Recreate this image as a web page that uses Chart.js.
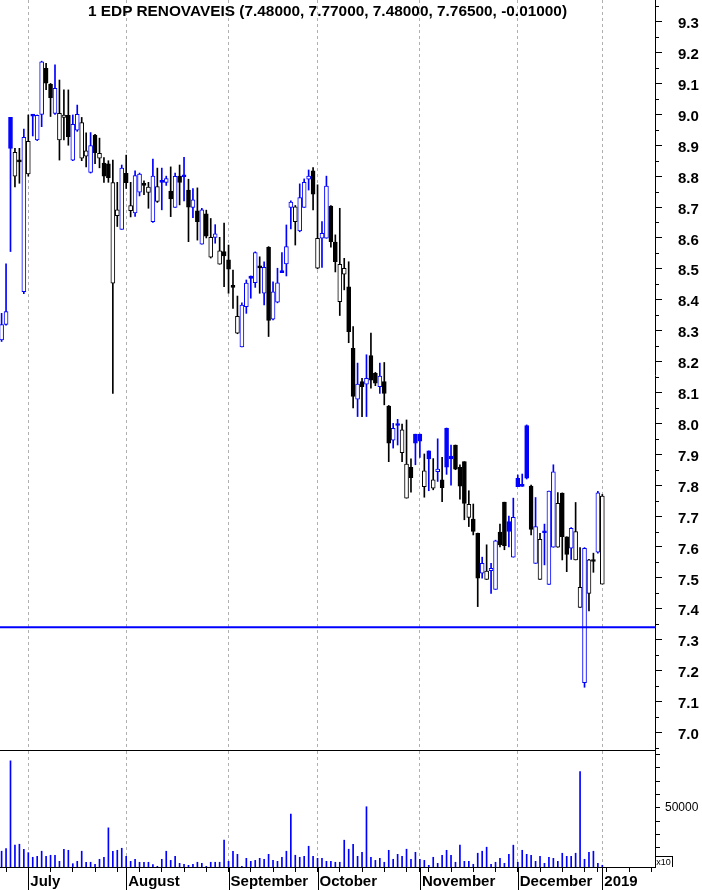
<!DOCTYPE html>
<html>
<head>
<meta charset="utf-8">
<script src="https://cdn.jsdelivr.net/npm/chart.js@4.4.1/dist/chart.umd.min.js"></script>
<style>
html,body{margin:0;padding:0;background:#fff;}
#wrap{position:relative;width:702px;height:890px;overflow:hidden;background:#fff;}
#price{position:absolute;left:0;top:0;}
#vol{position:absolute;left:0;top:751px;}
#title{position:absolute;left:0;top:3px;width:655px;text-align:center;font-family:"Liberation Sans",Arial,sans-serif;font-weight:bold;font-size:15.4px;line-height:15.4px;color:#000;white-space:nowrap;}
#x10{position:absolute;left:655px;top:856px;width:17px;height:10px;border-top:1px solid #000;border-right:1px solid #000;font-family:"Liberation Sans",Arial,sans-serif;font-size:9px;line-height:10px;text-align:center;color:#000;}
</style>
</head>
<body>
<div id="wrap">
<canvas id="price" width="702" height="751"></canvas>
<canvas id="vol" width="702" height="139"></canvas>
<div id="title">1 EDP RENOVAVEIS (7.48000, 7.77000, 7.48000, 7.76500, -0.01000)</div>
<div id="x10">x10</div>
</div>
<script>
// ---- data (one entry per trading day, 22 Jun 2018 .. 2 Jan 2019) ----
const opens = [8.27,8.32,8.99,8.80,8.849,8.426,8.807,8.994,8.917,9.0,
9.149,9.097,9.003,8.917,8.99,8.997,8.852,8.949,8.858,8.865,
8.812,8.933,8.858,8.842,8.84,8.454,8.672,8.628,8.809,8.688,
8.681,8.748,8.772,8.747,8.653,8.718,8.78,8.78,8.752,8.699,
8.80,8.798,8.755,8.699,8.688,8.58,8.678,8.538,8.602,8.515,
8.556,8.529,8.445,8.292,8.247,8.378,8.477,8.455,8.507,8.421,
8.570,8.337,8.392,8.488,8.516,8.699,8.653,8.623,8.699,8.79,
8.817,8.502,8.599,8.599,8.703,8.587,8.394,8.483,8.442,8.243,
8.078,8.135,8.127,8.219,8.162,8.119,8.135,8.056,7.946,7.993,
7.905,7.758,7.858,7.965,7.965,7.795,7.911,7.79,7.844,7.817,
7.984,7.894,7.930,7.858,7.876,7.696,7.69,7.644,7.515,7.495,
7.523,7.463,7.648,7.745,7.682,7.567,7.822,7.796,7.993,7.797,
7.547,7.495,7.646,7.479,7.599,7.599,7.774,7.633,7.596,7.558,
7.404,7.161,7.45,7.554,7.583,7.48];
const highs = [8.356,8.516,8.99,8.89,8.89,8.952,8.998,9.0,8.998,9.172,
9.165,9.10,9.160,9.111,9.079,9.079,8.998,9.03,8.99,8.94,
8.941,8.935,8.923,8.86,8.85,8.852,8.78,8.836,8.868,8.78,
8.817,8.81,8.785,8.78,8.855,8.826,8.826,8.80,8.83,8.81,
8.836,8.861,8.79,8.76,8.762,8.696,8.69,8.663,8.643,8.602,
8.648,8.577,8.496,8.412,8.39,8.464,8.477,8.555,8.539,8.523,
8.572,8.458,8.502,8.553,8.642,8.72,8.705,8.775,8.791,8.82,
8.828,8.772,8.653,8.80,8.705,8.61,8.696,8.534,8.523,8.313,
8.195,8.146,8.222,8.292,8.165,8.195,8.197,8.058,8.0,8.013,
7.998,8.011,7.885,7.965,7.965,7.901,7.911,7.886,7.95,7.89,
7.985,7.93,7.93,7.866,7.876,7.782,7.739,7.645,7.567,7.607,
7.547,7.622,7.674,7.745,7.70,7.758,7.833,7.836,7.995,7.80,
7.76,7.644,7.674,7.781,7.866,7.776,7.775,7.633,7.663,7.744,
7.598,7.598,7.56,7.58,7.78,7.77];
const lows = [8.265,8.318,8.556,8.765,8.777,8.42,8.80,8.93,8.915,8.96,
9.08,8.993,9.0,8.852,8.917,8.90,8.85,8.945,8.85,8.83,
8.81,8.84,8.827,8.78,8.78,8.097,8.637,8.628,8.76,8.668,
8.67,8.736,8.74,8.696,8.65,8.715,8.691,8.77,8.669,8.699,
8.707,8.72,8.588,8.666,8.593,8.58,8.60,8.535,8.583,8.515,
8.442,8.421,8.372,8.29,8.247,8.356,8.405,8.44,8.421,8.383,
8.281,8.335,8.39,8.488,8.477,8.629,8.577,8.62,8.699,8.755,
8.691,8.50,8.505,8.599,8.57,8.49,8.349,8.432,8.261,8.05,
8.022,8.022,8.022,8.114,8.122,8.097,8.06,7.876,7.92,7.93,
7.876,7.758,7.777,7.866,7.89,7.761,7.782,7.785,7.812,7.747,
7.835,7.80,7.85,7.755,7.688,7.666,7.639,7.407,7.499,7.495,
7.45,7.463,7.60,7.591,7.60,7.567,7.795,7.796,7.82,7.639,
7.547,7.495,7.542,7.479,7.599,7.599,7.558,7.52,7.56,7.558,
7.404,7.146,7.393,7.518,7.58,7.48];
const closes = [8.32,8.362,8.89,8.877,8.846,8.926,8.913,8.996,8.997,9.17,
9.101,9.054,9.084,9.003,8.998,8.928,8.968,9.0,8.973,8.882,
8.899,8.876,8.874,8.80,8.795,8.779,8.691,8.826,8.779,8.705,
8.802,8.807,8.770,8.765,8.80,8.766,8.782,8.792,8.726,8.799,
8.78,8.80,8.70,8.723,8.653,8.691,8.606,8.602,8.613,8.558,
8.542,8.499,8.44,8.346,8.383,8.454,8.469,8.553,8.503,8.505,
8.333,8.426,8.455,8.49,8.572,8.716,8.701,8.731,8.78,8.80,
8.742,8.599,8.615,8.768,8.588,8.523,8.515,8.502,8.297,8.087,
8.127,8.119,8.146,8.14,8.13,8.153,8.097,7.936,7.984,7.995,
7.979,7.868,7.824,7.936,7.942,7.846,7.885,7.817,7.852,7.792,
7.858,7.885,7.852,7.797,7.741,7.738,7.65,7.499,7.547,7.522,
7.531,7.62,7.607,7.604,7.65,7.696,7.795,7.798,7.823,7.657,
7.666,7.625,7.648,7.781,7.843,7.741,7.633,7.576,7.66,7.65,
7.469,7.596,7.558,7.553,7.775,7.765];
const volumes = [13300,15500,89500,18400,19200,15000,12100,8200,9000,13300,
9000,9900,9900,4800,15000,14100,2800,4800,13300,4000,
4000,2300,6500,8200,33000,13300,14100,15800,9000,4800,
6500,4000,4000,4000,2000,600,6500,13300,5600,9000,
3100,2300,1400,2300,4000,3100,600,4000,4000,4000,
22600,4800,13300,10700,600,7300,4800,5600,7300,6500,
10700,5600,4800,8200,13300,44600,9900,8200,9000,17500,
9000,7300,7300,4800,4800,4000,4000,22600,15000,19200,
9000,12400,50800,8200,5600,7300,4000,14100,6500,10700,
9000,15000,6500,12400,6500,5600,1400,8200,3100,9900,
14100,9900,4000,18400,4800,4800,2300,11600,13300,16700,
2300,4000,7300,3100,10700,18400,4000,14100,10700,9900,
4800,9000,3100,8200,7300,4800,11600,9000,9000,11600,
80500,6500,12400,13300,3100,1500];
const monthStarts = [6, 28, 51, 71, 94, 116, 135];
const monthNames = ['July', 'August', 'September', 'October', 'November', 'December', '2019'];
const weekTicks = [1, 11, 16, 21, 26, 31, 36, 41, 46, 56, 61, 66, 76, 81, 86, 91, 96, 101, 106, 111, 121, 126, 131, 134, 136, 141, 146];
const priceTicks = [7.0,7.1,7.2,7.3,7.4,7.5,7.6,7.7,7.8,7.9,8.0,8.1,8.2,8.3,8.4,8.5,8.6,8.7,8.8,8.9,9.0,9.1,9.2,9.3];
const volumeTicks = [16250, 27500, 38750, 50000, 61250, 72500, 83750, 95000];
const volumeLabelTick = 50000;
const supportLevel = 7.34;

// ---- styling ----
const BLUE = '#0000ff', BLACK = '#000000', GRID = '#b0b0b0';
const FONT = '"Liberation Sans", Arial, sans-serif';
const X_MIN = -0.36, X_MAX = 146.84;
const candleColor = closes.map((c, i) => c >= (i ? closes[i - 1] : opens[i]) ? BLUE : BLACK);
const bodyFill = closes.map((c, i) => (c < opens[i] || Math.abs(c - opens[i]) < 0.006) ? candleColor[i] : '#ffffff');
const axisTicks = Array.from(new Set(weekTicks.concat(monthStarts))).sort((a, b) => a - b);

const minorTicks = {
  id: 'minorTicks',
  afterDraw(chart) {
    const s = chart.scales.y, ctx = chart.ctx;
    const vals = new Set();
    priceTicks.forEach(v => { vals.add(+(v - 0.05).toFixed(2)); vals.add(+(v + 0.05).toFixed(2)); });
    ctx.save();
    ctx.strokeStyle = '#000'; ctx.lineWidth = 1;
    ctx.beginPath();
    vals.forEach(v => {
      const y = Math.round(s.getPixelForValue(v)) + 0.5;
      if (y < s.top || y > s.bottom) return;
      ctx.moveTo(s.left, y); ctx.lineTo(s.left + 4, y);
    });
    ctx.stroke();
    ctx.restore();
  }
};

const monthSeparators = {
  id: 'monthSeparators',
  afterDraw(chart) {
    const s = chart.scales.x, ctx = chart.ctx;
    ctx.save();
    ctx.strokeStyle = '#000'; ctx.lineWidth = 1;
    ctx.beginPath();
    monthStarts.forEach(m => {
      const x = Math.round(s.getPixelForValue(m)) + 0.5;
      ctx.moveTo(x, s.top); ctx.lineTo(x, chart.height);
    });
    ctx.stroke();
    ctx.restore();
  }
};

new Chart(document.getElementById('price'), {
  type: 'bar',
  data: {
    datasets: [
      { type: 'line', data: [{x: X_MIN, y: supportLevel}, {x: X_MAX, y: supportLevel}],
        borderColor: BLUE, borderWidth: 2, pointRadius: 0, fill: false, order: 0 },
      { data: opens.map((o, i) => ({x: i, y: [o, closes[i]]})),
        backgroundColor: bodyFill, borderColor: candleColor, borderWidth: 1, borderSkipped: false,
        barThickness: 4, minBarLength: 2, grouped: false, order: 1 },
      { data: lows.map((l, i) => ({x: i, y: [l, highs[i]]})),
        backgroundColor: candleColor, borderWidth: 0, barThickness: 1, grouped: false, order: 2 }
    ]
  },
  options: {
    responsive: false, animation: false, devicePixelRatio: 1,
    layout: { padding: 0 },
    plugins: { legend: { display: false }, tooltip: { enabled: false }, title: { display: false } },
    scales: {
      x: {
        type: 'linear', min: X_MIN, max: X_MAX, offset: false, position: 'bottom',
        afterBuildTicks: s => { s.ticks = monthStarts.map(v => ({value: v})); },
        afterFit: s => { s.height = 1; s.paddingLeft = 0; s.paddingRight = 0; },
        ticks: { display: false },
        grid: { display: true, color: GRID, lineWidth: 1, drawTicks: false, offset: false },
        border: { display: true, color: '#000', width: 1, dash: [3, 3] }
      },
      y: {
        type: 'linear', position: 'right', min: 6.943, max: 9.370,
        afterBuildTicks: s => { s.ticks = priceTicks.map(v => ({value: v})); },
        afterFit: s => { s.width = 47; s.paddingTop = 0; s.paddingBottom = 0; },
        ticks: { autoSkip: false, color: '#000', font: { family: FONT, size: 15, weight: 'bold' }, padding: 16, labelOffset: 2.5,
                 callback: v => Number(v).toFixed(1) },
        grid: { drawOnChartArea: false, drawTicks: true, tickLength: 7, tickColor: '#000' },
        border: { display: true, color: '#000', width: 1 }
      }
    }
  },
  plugins: [minorTicks]
});

new Chart(document.getElementById('vol'), {
  type: 'bar',
  data: {
    datasets: [
      { data: volumes.map((v, i) => ({x: i, y: v})), backgroundColor: BLUE, borderWidth: 0, barThickness: 1 }
    ]
  },
  options: {
    responsive: false, animation: false, devicePixelRatio: 1,
    layout: { padding: 0 },
    plugins: { legend: { display: false }, tooltip: { enabled: false } },
    scales: {
      x: {
        type: 'linear', min: X_MIN, max: X_MAX, offset: false, position: 'bottom',
        afterBuildTicks: s => { s.ticks = axisTicks.map(v => ({value: v})); },
        afterFit: s => { s.height = 23; s.paddingLeft = 0; s.paddingRight = 0; },
        ticks: { autoSkip: false, maxRotation: 0, minRotation: 0, align: 'start', labelOffset: 2, padding: 1,
                 color: '#000', font: { family: FONT, size: 15, weight: 'bold' },
                 callback: v => { const k = monthStarts.indexOf(v); return k >= 0 ? monthNames[k] : ''; } },
        grid: { color: c => (c.tick && monthStarts.includes(c.tick.value)) ? GRID : 'rgba(0,0,0,0)',
                lineWidth: 1, drawTicks: true, tickLength: 5, tickColor: '#000', offset: false },
        border: { display: true, color: '#000', width: 1, dash: [3, 3] }
      },
      y: {
        type: 'linear', position: 'right', min: 0, max: 97800,
        afterBuildTicks: s => { s.ticks = volumeTicks.map(v => ({value: v})); },
        afterFit: s => { s.width = 47; s.paddingTop = 0; s.paddingBottom = 0; },
        ticks: { autoSkip: false, color: '#000', font: { family: FONT, size: 12 }, padding: 5,
                 callback: v => Number(v) === volumeLabelTick ? String(volumeLabelTick) : '' },
        grid: { drawOnChartArea: false, drawTicks: true, tickLength: 5, tickColor: '#000' },
        border: { display: true, color: '#000', width: 1 }
      }
    }
  },
  plugins: [monthSeparators]
});
</script>
</body>
</html>
